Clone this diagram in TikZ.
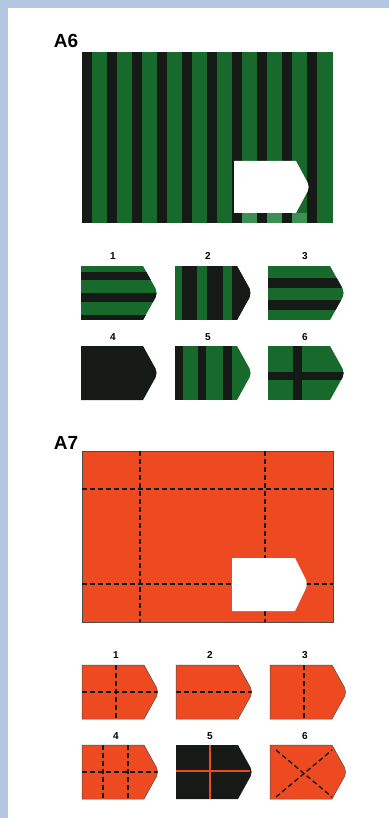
\documentclass[tikz,border=0pt]{standalone}
\usepackage{fontspec}
\setmainfont{Liberation Sans}
\definecolor{bgblue}{HTML}{B4C7E0}
\definecolor{gr}{HTML}{17692C}
\definecolor{grl}{HTML}{3E8F55}
\definecolor{dk}{HTML}{151A17}
\definecolor{orng}{HTML}{EE4A22}
\tikzset{
  biglabel/.style={font=\bfseries\fontsize{19}{19}\selectfont, inner sep=0pt},
  optlabel/.style={font=\bfseries\fontsize{10}{10}\selectfont, inner sep=0pt},
  dashline/.style={line width=1.4pt, dash pattern=on 5pt off 3pt, draw=dk},
  outl/.style={draw=black!70, line width=0.5pt}
}
\newcommand\tagfill[3]{\fill[#1] (#2,#3) -- ++(62,0) [rounded corners=5pt] -- ++(15,27) [sharp corners] -- ++(-15,27) -- ++(-62,0) -- cycle;}
\newcommand\tagdraw[3]{\draw[#1] (#2,#3) -- ++(62,0) [rounded corners=5pt] -- ++(15,27) [sharp corners] -- ++(-15,27) -- ++(-62,0) -- cycle;}
\newcommand\tagclip[2]{\clip (#1,#2) -- ++(62,0) [rounded corners=5pt] -- ++(15,27) [sharp corners] -- ++(-15,27) -- ++(-62,0) -- cycle;}
\begin{document}
\begin{tikzpicture}[x=1pt,y=-1pt]
\useasboundingbox (0,0) rectangle (389,818);
\fill[bgblue] (0,0) rectangle (389,818);
\fill[white] (8,8) rectangle (389,818);

% ---------- A6 ----------
\node[biglabel] (a6) at (66,41) {A6};
\fill[gr] (82,52) rectangle (333,223);
\fill[grl] (234,213) rectangle (310,223);
\foreach \k in {0,...,9} \fill[dk] ({82+25*\k},52) rectangle ({92+25*\k},223);
\fill[white] (234,161) -- (296,161) [rounded corners=5pt] -- (310,187) [sharp corners] -- (296,213) -- (234,213) -- cycle;

\node[optlabel] (l61) at (113,256) {1};
\node[optlabel] (l62) at (208,256) {2};
\node[optlabel] (l63) at (305,256) {3};
\node[optlabel] (l64) at (113,337) {4};
\node[optlabel] (l65) at (208,337) {5};
\node[optlabel] (l66) at (305,337) {6};

% option 1
\begin{scope}
\tagclip{81}{266}
\fill[gr] (81,266) rectangle (160,320);
\fill[dk] (81,272) rectangle (160,280);
\fill[dk] (81,293) rectangle (160,302);
\fill[dk] (81,315) rectangle (160,320);
\end{scope}
% option 2
\begin{scope}
\tagclip{175}{266}
\fill[gr] (175,266) rectangle (254,320);
\fill[dk] (182,266) rectangle (197,320);
\fill[dk] (207,266) rectangle (223,320);
\fill[dk] (232,266) rectangle (251,320);
\end{scope}
% option 3
\begin{scope}
\tagclip{268}{266}
\fill[gr] (268,266) rectangle (347,320);
\fill[dk] (268,278) rectangle (347,288);
\fill[dk] (268,300) rectangle (347,310);
\end{scope}
% option 4
\tagfill{dk}{81}{346}
% option 5
\begin{scope}
\tagclip{175}{346}
\fill[gr] (175,346) rectangle (254,400);
\fill[dk] (175,346) rectangle (183,400);
\fill[dk] (198,346) rectangle (206,400);
\fill[dk] (223,346) rectangle (232,400);
\end{scope}
% option 6
\begin{scope}
\tagclip{268}{346}
\fill[gr] (268,346) rectangle (347,400);
\fill[dk] (293,346) rectangle (302,400);
\fill[dk] (268,372) rectangle (347,380);
\end{scope}

% ---------- A7 ----------
\node[biglabel] (a7) at (66,443) {A7};
\fill[orng] (82,451) rectangle (333,622);
\draw[outl] (82,451) rectangle (333,622);
\draw[dashline] (140,451) -- (140,622);
\draw[dashline] (265,451) -- (265,622);
\draw[dashline] (82,489) -- (333,489);
\draw[dashline] (82,584) -- (333,584);
\fill[white] (232,558) -- (295,558) [rounded corners=5pt] -- (308,584) [sharp corners] -- (295,611) -- (232,611) -- cycle;

\node[optlabel] (l71) at (116,655) {1};
\node[optlabel] (l72) at (210,655) {2};
\node[optlabel] (l73) at (305,655) {3};
\node[optlabel] (l74) at (116,736) {4};
\node[optlabel] (l75) at (210,736) {5};
\node[optlabel] (l76) at (305,736) {6};

% option 1
\tagfill{orng}{82}{665}
\draw[dashline] (116,665) -- (116,719);
\draw[dashline] (82,692) -- (158,692);
\tagdraw{outl}{82}{665}
% option 2
\tagfill{orng}{176}{665}
\draw[dashline] (176,692) -- (252,692);
\tagdraw{outl}{176}{665}
% option 3
\tagfill{orng}{270}{665}
\draw[dashline] (304,665) -- (304,719);
\tagdraw{outl}{270}{665}
% option 4
\tagfill{orng}{82}{745}
\draw[dashline] (103,745) -- (103,799);
\draw[dashline] (128,745) -- (128,799);
\draw[dashline] (82,772) -- (158,772);
\tagdraw{outl}{82}{745}
% option 5
\tagfill{dk}{176}{745}
\draw[orng, line width=1.4pt] (210,745) -- (210,799);
\draw[orng, line width=1.4pt] (176,771) -- (250,771);
% option 6
\tagfill{orng}{270}{745}
\draw[dashline] (276,750) -- (332,797);
\draw[dashline] (276,797) -- (332,750);
\tagdraw{outl}{270}{745}
\end{tikzpicture}
\end{document}
